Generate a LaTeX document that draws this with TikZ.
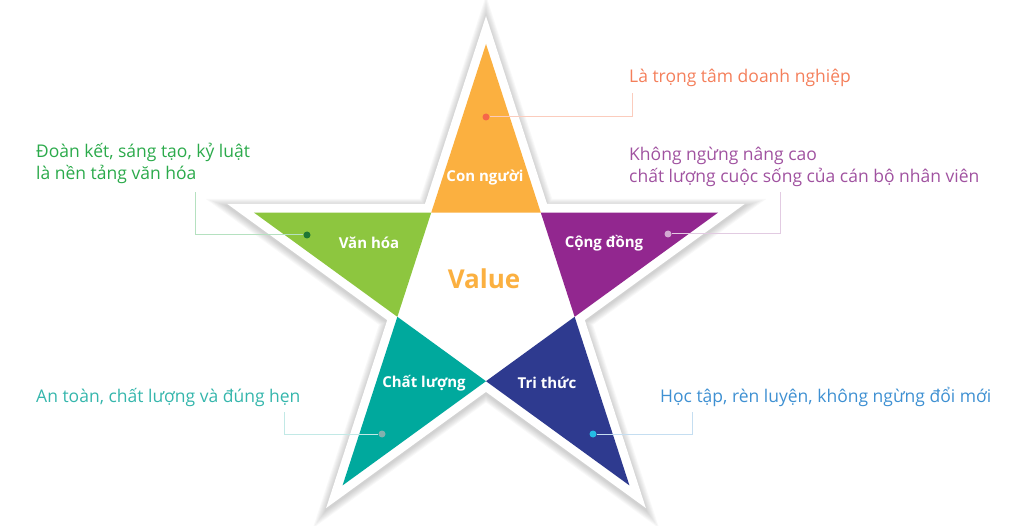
\documentclass[tikz,border=0pt]{standalone}
\usepackage{fontspec}
\setmainfont{Open Sans}
\definecolor{cman}{HTML}{FBB040}
\definecolor{cculture}{HTML}{8DC63F}
\definecolor{ccommunity}{HTML}{92278F}
\definecolor{cknow}{HTML}{2E3A8F}
\definecolor{cquality}{HTML}{00A99D}
\definecolor{tman}{HTML}{F47F5B}
\definecolor{tculture}{HTML}{2BAA4B}
\definecolor{tcommunity}{HTML}{A052A0}
\definecolor{tquality}{HTML}{35B6AC}
\definecolor{tknow}{HTML}{3E90D2}
\newcommand\starpts[2]{(-90:#1) -- (-54:#2) -- (-18:#1) -- (18:#2) -- (54:#1) -- (90:#2) -- (126:#1) -- (162:#2) -- (198:#1) -- (234:#2) -- cycle}
\begin{document}
\begin{tikzpicture}[x=1pt,y=-1pt,
  lbl/.style={text=white,font=\bfseries\fontsize{15}{17}\selectfont},
  note/.style={anchor=base west,align=left,inner sep=0pt,font=\fontsize{17.5}{22.5}\selectfont},
  lead/.style={line width=1pt},
  pin/.style={circle,inner sep=0pt,minimum size=7pt}]
\useasboundingbox (0,0) rectangle (1024,526);
\coordinate (c) at (486,288);

% soft shadow and white star
\foreach \R in {275.2,278.5,281.7,285,288.2,291.4,294.7}{
  \pgfmathsetmacro\rr{0.382*\R}
  \fill[black,opacity=0.028,shift={(486,290)}] \starpts{\R}{\rr};
}
\fill[white,shift={(c)}] \starpts{272}{103.9};

% points of the star
\fill[cman,shift={(c)}] (-90:244) -- (-54:93.2) -- (234:93.2) -- cycle;
\fill[ccommunity,shift={(c)}] (-18:244) -- (18:93.2) -- (-54:93.2) -- cycle;
\fill[cknow,shift={(c)}] (54:244) -- (90:93.2) -- (18:93.2) -- cycle;
\fill[cquality,shift={(c)}] (126:244) -- (162:93.2) -- (90:93.2) -- cycle;
\fill[cculture,shift={(c)}] (198:244) -- (234:93.2) -- (162:93.2) -- cycle;

% texts (base = last line)
\node[note,text=tman] (nman) at (629,83) {Là trọng tâm doanh nghiệp};
\node[note,text=tcommunity] (ncommunity) at (629,183) {Không ngừng nâng cao\\chất lượng cuộc sống của cán bộ nhân viên};
\node[note,text=tculture] (nculture) at (36,180) {Đoàn kết, sáng tạo, kỷ luật\\là nền tảng văn hóa};
\node[note,text=tquality] (nquality) at (36,402) {An toàn, chất lượng và đúng hẹn};
\node[note,text=tknow] (nknow) at (660,402) {Học tập, rèn luyện, không ngừng đổi mới};

% callouts
\node[pin,fill=tman!80!red] (dman) at (486,117) {};
\node[pin,fill=ccommunity!40!white] (dcommunity) at (668,234) {};
\node[pin,fill=tculture!70!black] (dculture) at (307,235) {};
\node[pin,fill=cquality!40!gray!70!white] (dquality) at (382,434) {};
\node[pin,fill=tknow!60!cyan] (dknow) at (593,434) {};
\coordinate (eman) at (632,93);
\coordinate (ecommunity) at (780,192);
\coordinate (eculture) at (195,192);
\coordinate (equality) at (284,412);
\coordinate (eknow) at (692,412);
\draw[lead,tman!40] (dman) -| (eman);
\draw[lead,tcommunity!30] (dcommunity) -| (ecommunity);
\draw[lead,tculture!35] (dculture) -| (eculture);
\draw[lead,tquality!30] (dquality) -| (equality);
\draw[lead,tknow!30] (dknow) -| (eknow);

% labels
\node[lbl] (lman) at (485,178) {Con người};
\node[lbl] (lcommunity) at (604,243) {Cộng đồng};
\node[lbl] (lculture) at (369,243) {Văn hóa};
\node[lbl] (lquality) at (424,383) {Chất lượng};
\node[lbl] (lknow) at (547,383) {Tri thức};
\node[text=cman,font=\bfseries\fontsize{26}{28}\selectfont] (value) at (484,279) {Value};
\end{tikzpicture}
\end{document}
